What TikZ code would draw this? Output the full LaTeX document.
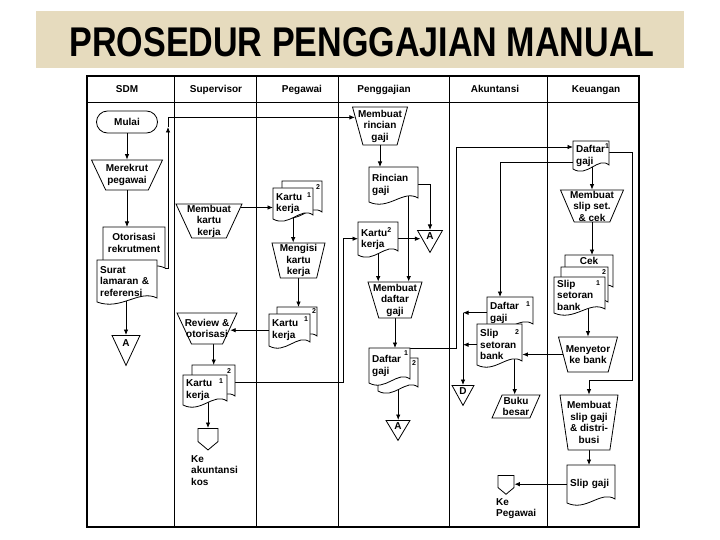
\documentclass[tikz,border=0pt]{standalone}
\usepackage{fontspec}
\setmainfont{Liberation Sans}
\usepackage{graphicx}
\usepackage{tikz}
\usetikzlibrary{arrows.meta, calc, shapes.geometric, shapes.symbols, backgrounds}
\definecolor{kertas}{RGB}{230,219,190}

\tikzset{
  bentuk/.style={line width=0.8pt, draw=black},
  garis/.style={line width=0.8pt},
  bingkai/.style={line width=1.3pt},
  panah/.style={line width=0.8pt, -{Latex[length=5.5pt, width=4.5pt]}},
  teks/.style={font=\fontsize{10}{11.5}\selectfont\bfseries, align=center, inner sep=1pt},
  nomor/.style={font=\fontsize{7}{8}\selectfont\bfseries, inner sep=0pt},
  terminal/.style={teks, bentuk, fill=white, rounded corners=11pt, minimum width=61, minimum height=22},
  proses/.style={trapezium, trapezium angle=#1, shape border rotate=180, trapezium stretches, bentuk, fill=white, inner sep=1pt},
  jajar/.style={trapezium, trapezium left angle=70, trapezium right angle=110, trapezium stretches, bentuk, fill=white, inner sep=1pt},
  konektor/.style={teks, isosceles triangle, isosceles triangle stretches, shape border rotate=270, bentuk, fill=white, inner sep=1pt},
  offpage/.style={signal, signal to=south, signal pointer angle=100, bentuk, fill=white, inner sep=1pt}
}

% lembar dokumen: x, y (kiri atas), lebar, tinggi
\newcommand{\lembar}[4]{%
  \draw[bentuk, fill=white] (#1,#2) -- ++(#3,0) -- ++(0,#4-4)
    .. controls +(-0.3*#3,-9) and +(0.4*#3,9) .. (#1,#2+#4) -- cycle;}
% dokumen bernama: nama, x, y, lebar, tinggi, teks
\newcommand{\dok}[6]{%
  \lembar{#2}{#3}{#4}{#5}
  \pgfmathsetlengthmacro\lebarteks{#4-6}
  \node[teks, align=left, text width=\lebarteks, minimum height=#5, inner xsep=3pt, anchor=north west] (#1) at (#2,#3) {#6};}

\begin{document}
\begin{tikzpicture}[x=1pt, y=-1pt]
  \useasboundingbox (0,0) rectangle (720,540);

  % Judul
  \node[font=\bfseries, inner sep=0pt] (judul) at (362,42) {\resizebox{585pt}{29pt}{PROSEDUR PENGGAJIAN MANUAL}};

  % Kepala kolom
  \foreach \x/\j/\n in {127/SDM/sdm, 216/Supervisor/spv, 302/Pegawai/pgw, 384/Penggajian/pgj, 495/Akuntansi/akt, 596/Keuangan/keu}
    \node[teks, anchor=base] (kol-\n) at (\x,93) {\j};

  % SDM
  \node[terminal] (mulai) at (127,122) {Mulai};
  \node[proses=71.6, minimum width=71, minimum height=30] (merekrut) at (127,175) {};
  \node[teks] (merekrut-t) at (merekrut) {Merekrut\\pegawai};
  \dok{otor}{103}{227}{62}{45}{}
  \node[teks] (otor-t) at (134,243) {Otorisasi\\rekrutment};
  \dok{surat}{97}{260}{60}{42}{Surat\\lamaran \&\\referensi}
  \node[konektor, minimum width=28, minimum height=30, anchor=north] (A1) at (126,335) {A};

  % Supervisor
  \node[proses=65.5, minimum width=66, minimum height=34] (kartu) at (209,221) {};
  \node[teks] (kartu-t) at (kartu) {Membuat\\kartu\\kerja};
  \node[proses=65, minimum width=60, minimum height=31] (review) at (207,328.5) {};
  \node[teks] (review-t) at (review) {Review \&\\otorisasi};
  \dok{kk3b}{192}{365}{43}{35}{}
  \dok{kk3}{183}{375}{44}{30}{Kartu\\kerja}
  \node[nomor] (n-kk3b) at (229,371) {2};
  \node[nomor] (n-kk3) at (221,381) {1};
  \node[offpage, minimum width=20, minimum height=14, anchor=north] (kos) at (208,428) {};
  \node[teks, align=left, anchor=north west] (kos-t) at (190,454) {Ke\\akuntansi\\kos};

  % Pegawai
  \dok{kk1b}{282}{181}{40}{35}{}
  \dok{kk1}{273}{188}{40}{31}{Kartu\\kerja}
  \node[nomor] (n-kk1b) at (318,187) {2};
  \node[nomor] (n-kk1) at (309,195) {1};
  \node[proses=77, minimum width=53, minimum height=35] (mengisi) at (298.5,260.5) {};
  \node[teks] (mengisi-t) at (mengisi) {Mengisi\\kartu\\kerja};
  \dok{kk2b}{277}{307}{40}{33}{}
  \dok{kk2}{269}{314}{41}{32}{Kartu\\kerja}
  \node[nomor] (n-kk2b) at (314,311) {2};
  \node[nomor] (n-kk2) at (306,319) {1};

  % Penggajian
  \node[proses=73, minimum width=55, minimum height=38] (rincian) at (380,126) {};
  \node[teks] (rincian-t) at (rincian) {Membuat\\rincian\\gaji};
  \dok{rgaji}{369}{167}{49}{35}{Rincian\\gaji}
  \node[konektor, minimum width=25, minimum height=22, anchor=north] (A2) at (430,230) {A};
  \dok{kk4}{358}{222}{40}{33}{Kartu\textsuperscript{2}\\kerja}
  \node[proses=71.6, minimum width=54, minimum height=36] (daftar) at (395,300) {};
  \node[teks] (daftar-t) at (daftar) {Membuat\\daftar\\gaji};
  \dok{dg1b}{378}{358}{40}{33}{}
  \dok{dg1}{369}{348}{41}{35}{Daftar\\gaji}
  \node[nomor] (n-dg1) at (406,353) {1};
  \node[nomor] (n-dg1b) at (414,363) {2};
  \node[konektor, minimum width=24, minimum height=20, anchor=north] (A3) at (398,420) {A};

  % Akuntansi
  \dok{dgA}{487}{297}{46}{31}{Daftar\\gaji}
  \dok{sbA}{477}{324}{45}{41}{Slip\\setoran\\bank}
  \node[nomor] (n-dgA) at (528,304) {1};
  \node[nomor] (n-sbA) at (517,332) {2};
  \node[konektor, minimum width=22, minimum height=20, anchor=north] (D) at (463,385) {D};
  \node[jajar, minimum width=48, minimum height=23] (buku) at (516,406.5) {};
  \node[teks] (buku-t) at (buku) {Buku\\besar};
  \node[offpage, minimum width=16, minimum height=13, anchor=north] (kp) at (506,475) {};
  \node[teks, align=left, anchor=north west] (kp-t) at (495,497) {Ke\\Pegawai};

  % Keuangan
  \dok{dgK}{573}{141}{36}{28}{Daftar\textsuperscript{1}\\gaji}
  \node[proses=69, minimum width=63, minimum height=32] (slipset) at (592,206) {};
  \node[teks] (slipset-t) at (slipset) {Membuat\\slip set.\\\& cek};
  \dok{cek}{565}{255}{48}{36}{}
  \node[teks] (cek-t) at (589,261) {Cek};
  \dok{sbK2}{561}{267}{47}{39}{}
  \dok{sbK}{554}{277}{51}{36}{Slip\\setoran\\bank}
  \node[nomor] (n-sbK2) at (604,272) {2};
  \node[nomor] (n-sbK) at (598,283) {1};
  \node[proses=77, minimum width=59, minimum height=35] (menyetor) at (588,354.5) {};
  \node[teks] (menyetor-t) at (menyetor) {Menyetor\\ke bank};
  \node[proses=79, minimum width=58, minimum height=55] (mslip) at (589,422.5) {};
  \node[teks] (mslip-t) at (mslip) {Membuat\\slip gaji\\\& distri-\\busi};
  \dok{slipgaji}{567}{465}{48}{38}{Slip gaji}

  \begin{scope}[on background layer]
    \fill[white] (0,0) rectangle (720,540);
    \fill[kertas] (36,11) rectangle (684,68);

    % Bingkai dan kolom
    \draw[bingkai] (87,76) rectangle (639,527);
    \draw[garis] (87,102) -- (639,102);
    \foreach \x in {174,256,338,449,547}
      \draw[garis] (\x,76) -- (\x,527);

    % Alur SDM
    \draw[panah] (mulai) -- (merekrut);
    \draw[panah] (merekrut.south) -- (merekrut.south |- otor.north);
    \draw[panah] (A1.north |- surat.center) -- (A1.north);
    \coordinate (belok1) at (168,127);
    \draw[panah] ($(otor.north east)+(0,41)$) -| (belok1);
    \draw[panah] (belok1) |- (rincian.161);

    % Alur Supervisor
    \draw[panah] (kartu.23) -- (kartu.23 -| kk1.west);
    \draw[panah] (kk2.west) -- (kk2.west -| review.east);
    \draw[panah] (review.south -| kk3b.north) -- (kk3b.north);
    \draw[panah] (kos.north |- kk3.center) -- (kos.north);
    \draw[panah] (kk3b.east) -| ($(kk4.west)+(-15,0)$) -- (kk4.west);

    % Alur Pegawai
    \draw[panah] (kk1.center) -- (kk1.center |- mengisi.north);
    \draw[panah] (mengisi.south) -- (mengisi.south |- kk2b.north);

    % Alur Penggajian
    \draw[panah] (rincian.south) -- (rincian.south |- rgaji.north);
    \draw[panah] (rgaji.east) -| (A2.north);
    \draw[panah] (kk4.east) -- (kk4.east -| A2.west);
    \draw[panah] (kk4.center) -- (kk4.center |- daftar.north);
    \coordinate (rg-bawah) at ($(rgaji.center)+(15,0)$);
    \draw[panah] (rg-bawah) -- (rg-bawah |- daftar.north);
    \draw[panah] (daftar.south) -- (daftar.south |- dg1.north);
    \draw[panah] (dg1b.center) -- (dg1b.center |- A3.north);
    \coordinate (jalur1) at (456,147);
    \draw[panah] (dg1.north east) -| (jalur1) -- (jalur1 -| dgK.west);

    % Alur Akuntansi
    \coordinate (dgK-kiri) at ($(dgK.north west)+(0,21)$);
    \coordinate (jalur2) at (500,162);
    \draw[panah] (dgK-kiri) -- (jalur2) -- (jalur2 |- dgA.north);
    \draw[panah] (dgA.west) -- (dgA.west -| D.north);
    \draw[panah] (sbA.west) -- (sbA.west -| D.north);
    \draw[panah] (dgA.west -| D.north) -- (D.north);
    \coordinate (sb-bawah) at ($(sbA.center)+(15,0)$);
    \draw[panah] (sb-bawah) -- (sb-bawah |- buku.north);
    \draw[panah] (slipgaji.west) -- (slipgaji.west -| kp.east);

    % Alur Keuangan
    \draw[panah] (dgK.center -| slipset.north) -- (slipset.north);
    \draw[panah] (slipset.south) -- (slipset.south |- cek.north);
    \draw[panah] (sbK.center -| menyetor.north) -- (menyetor.north);
    \draw[panah] (menyetor.west) -- (menyetor.west -| sbA.east);
    \coordinate (dgK-kanan) at ($(dgK.north east)+(0,11)$);
    \coordinate (jalur3) at (632,380);
    \draw[panah] (dgK-kanan) -| (jalur3) -| (mslip.north);
    \draw[panah] (mslip.south) -- (mslip.south |- slipgaji.north);
  \end{scope}
\end{tikzpicture}
\end{document}
